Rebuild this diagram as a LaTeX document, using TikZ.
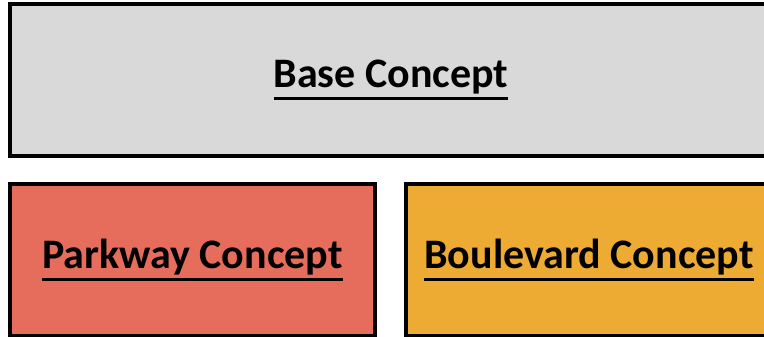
\documentclass[tikz,border=0pt]{standalone}
\usepackage{fontspec}
\setmainfont{Carlito}
\usepackage{tikz}
\definecolor{basegray}{HTML}{D9D9D9}
\definecolor{parkred}{HTML}{E66C5C}
\definecolor{blvdorange}{HTML}{EDAB33}
\newcommand{\ulined}[1]{\sbox0{#1}\rlap{\usebox0}\rule[-0.29em]{\wd0}{0.07em}}

\begin{document}
\begin{tikzpicture}[x=1pt, y=-1pt,
    concept/.style={draw=black, line width=3.5pt, rectangle, inner sep=0pt,
      minimum height=152pt, font=\fontsize{42}{50}\selectfont\bfseries}]
  \clip (0,0) rectangle (764,337);
  % Base layer
  \node[concept, fill=basegray, minimum width=762pt] (base) at (391,80) {\ulined{Base Concept}};
  % Variants below it
  \node[concept, fill=parkred, minimum width=365pt] (parkway) at (192.5,260) {\ulined{Parkway Concept}};
  \node[concept, fill=blvdorange, minimum width=366pt] (boulevard) at (589,260) {\ulined{Boulevard Concept}};
\end{tikzpicture}
\end{document}
